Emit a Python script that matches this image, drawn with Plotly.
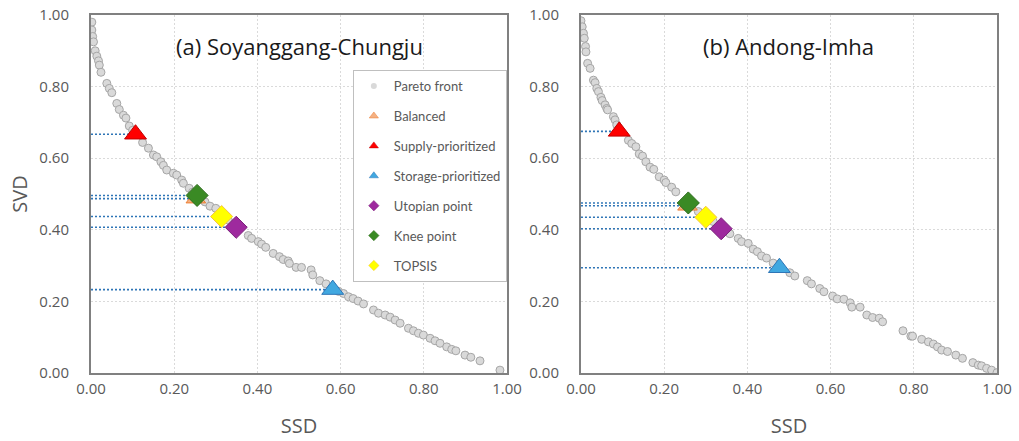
import plotly.graph_objects as go

# ---------------- data ----------------
left_ssd = [0.002, 0.002, 0.004, 0.006, 0.010, 0.014, 0.018, 0.020, 0.024, 0.038, 0.044, 0.050,
            0.062, 0.068, 0.078, 0.084, 0.092, 0.100, 0.124, 0.138, 0.150, 0.158, 0.168, 0.174,
            0.182, 0.198, 0.206, 0.218, 0.222, 0.236, 0.244, 0.274, 0.286, 0.300, 0.330, 0.378,
            0.386, 0.402, 0.410, 0.420, 0.438, 0.453, 0.462, 0.474, 0.477, 0.493, 0.506, 0.529,
            0.533, 0.550, 0.565, 0.595, 0.607, 0.619, 0.630, 0.642, 0.655, 0.679, 0.691, 0.707,
            0.719, 0.731, 0.743, 0.763, 0.775, 0.787, 0.799, 0.815, 0.827, 0.839, 0.855, 0.867,
            0.877, 0.899, 0.913, 0.935, 0.983]
left_svd = [0.980, 0.958, 0.940, 0.925, 0.900, 0.885, 0.872, 0.860, 0.840, 0.809, 0.795, 0.783,
            0.753, 0.736, 0.720, 0.712, 0.690, 0.678, 0.644, 0.628, 0.609, 0.604, 0.590, 0.580,
            0.567, 0.558, 0.553, 0.539, 0.530, 0.516, 0.505, 0.478, 0.466, 0.460, 0.427, 0.384,
            0.376, 0.367, 0.360, 0.351, 0.334, 0.325, 0.317, 0.313, 0.306, 0.295, 0.295, 0.288,
            0.274, 0.258, 0.249, 0.228, 0.222, 0.213, 0.208, 0.201, 0.193, 0.176, 0.167, 0.162,
            0.156, 0.148, 0.139, 0.125, 0.118, 0.111, 0.106, 0.097, 0.090, 0.083, 0.073, 0.066,
            0.062, 0.050, 0.044, 0.034, 0.008]

right_ssd = [0.000, 0.003, 0.006, 0.008, 0.011, 0.012, 0.016, 0.022, 0.030, 0.034, 0.038, 0.042,
             0.048, 0.051, 0.058, 0.062, 0.064, 0.078, 0.082, 0.086, 0.114, 0.122, 0.132, 0.140,
             0.148, 0.156, 0.166, 0.175, 0.188, 0.200, 0.204, 0.218, 0.228, 0.282, 0.318, 0.358,
             0.378, 0.386, 0.402, 0.414, 0.424, 0.434, 0.446, 0.462, 0.502, 0.514, 0.544, 0.554,
             0.574, 0.584, 0.605, 0.616, 0.632, 0.647, 0.651, 0.671, 0.687, 0.701, 0.717, 0.725,
             0.774, 0.793, 0.797, 0.819, 0.835, 0.847, 0.857, 0.867, 0.881, 0.901, 0.917, 0.942,
             0.955, 0.963, 0.975, 0.987, 1.000]
right_svd = [0.984, 0.967, 0.949, 0.935, 0.912, 0.897, 0.865, 0.851, 0.818, 0.811, 0.795, 0.786,
             0.770, 0.761, 0.749, 0.739, 0.735, 0.716, 0.707, 0.693, 0.650, 0.641, 0.632, 0.612,
             0.606, 0.590, 0.575, 0.569, 0.548, 0.539, 0.532, 0.519, 0.506, 0.451, 0.423, 0.389,
             0.376, 0.367, 0.362, 0.346, 0.339, 0.327, 0.321, 0.307, 0.280, 0.271, 0.258, 0.249,
             0.236, 0.227, 0.215, 0.207, 0.206, 0.196, 0.184, 0.184, 0.162, 0.155, 0.153, 0.143,
             0.118, 0.103, 0.103, 0.094, 0.087, 0.081, 0.073, 0.064, 0.060, 0.050, 0.041, 0.029,
             0.022, 0.020, 0.013, 0.008, 0.001]

solution_names = ["Balanced", "Supply-prioritized", "Storage-prioritized",
                  "Utopian point", "Knee point", "TOPSIS"]
left_sol_ssd = [0.252, 0.107, 0.581, 0.349, 0.255, 0.314]
left_sol_svd = [0.487, 0.667, 0.233, 0.407, 0.496, 0.437]
right_sol_ssd = [0.256, 0.092, 0.477, 0.337, 0.258, 0.300]
right_sol_svd = [0.467, 0.675, 0.294, 0.403, 0.475, 0.435]

panel_titles = ["(a) Soyanggang-Chungju", "(b) Andong-Imha"]
tick_vals = [0.0, 0.2, 0.4, 0.6, 0.8, 1.0]

# ---------------- styles ----------------
sol_style = {
    "Balanced": dict(symbol="triangle-up", size=17, color="#F4B183", line=dict(color="#ED7D31", width=1)),
    "Supply-prioritized": dict(symbol="triangle-up", size=19, color="#FF0000", line=dict(color="#C00000", width=1)),
    "Storage-prioritized": dict(symbol="triangle-up", size=19, color="#41A8E0", line=dict(color="#2E75B6", width=1)),
    "Utopian point": dict(symbol="diamond", size=17, color="#9E2A9E", line=dict(color="#7A1F7A", width=1)),
    "Knee point": dict(symbol="diamond", size=17, color="#3A8A24", line=dict(color="#2C6B1B", width=1)),
    "TOPSIS": dict(symbol="diamond", size=17, color="#FFFF00", line=dict(color="#F5C242", width=1)),
}
FONT = "Open Sans"
LEG_FONT = "Lato"
GREY_TXT = "#595959"
LINE_BLUE = "#2E75B6"

fig = go.Figure()

panels = [
    ("x", "y", left_ssd, left_svd, left_sol_ssd, left_sol_svd),
    ("x2", "y2", right_ssd, right_svd, right_sol_ssd, right_sol_svd),
]

for xa, ya, pssd, psvd, sssd, ssvd in panels:
    # dotted guide lines from the y axis to each solution
    for sx, sy in zip(sssd, ssvd):
        fig.add_trace(go.Scatter(x=[0, sx], y=[sy, sy], mode="lines", xaxis=xa, yaxis=ya,
                                 line=dict(color=LINE_BLUE, width=1.6, dash="2px,2px"),
                                 showlegend=False, hoverinfo="skip"))
    fig.add_trace(go.Scatter(x=pssd, y=psvd, mode="markers", xaxis=xa, yaxis=ya,
                             name="Pareto front", showlegend=False,
                             marker=dict(symbol="circle", size=8, color="#D9D9D9",
                                         line=dict(color="#A6A6A6", width=1))))
    for name, sx, sy in zip(solution_names, sssd, ssvd):
        st = sol_style[name]
        fig.add_trace(go.Scatter(x=[sx], y=[sy], mode="markers", xaxis=xa, yaxis=ya,
                                 name=name, showlegend=False,
                                 marker=dict(symbol=st["symbol"], size=st["size"],
                                             color=st["color"], line=st["line"])))

# legend entries (small symbols as in the reference legend)
fig.add_trace(go.Scatter(x=[None], y=[None], mode="markers", name="Pareto front",
                         legendgroup="g0", xaxis="x", yaxis="y",
                         marker=dict(symbol="circle", size=6, color="#D9D9D9",
                                     line=dict(color="#D9D9D9", width=0))))
for i, name in enumerate(solution_names):
    st = sol_style[name]
    fig.add_trace(go.Scatter(x=[None], y=[None], mode="markers", name=name,
                             legendgroup="g%d" % (i + 1), xaxis="x", yaxis="y",
                             marker=dict(symbol=st["symbol"], size=8, color=st["color"],
                                         line=dict(color=st["line"]["color"], width=0.5))))

axis_common = dict(range=[0, 1], tickvals=tick_vals, tickformat=".2f",
                   showgrid=True, gridcolor="#DADADA", griddash="2px,2px", gridwidth=1,
                   zeroline=False, showline=True, mirror=True, linecolor="#808080", linewidth=2,
                   tickfont=dict(family=FONT, size=15, color=GREY_TXT), ticks="",
                   ticklabeloverflow="allow", automargin=False)

title_font = dict(family=FONT, size=20, color=GREY_TXT)
fig.update_layout(
    width=1019, height=441,
    margin=dict(l=91, r=22, t=15, b=68),
    paper_bgcolor="white", plot_bgcolor="white",
    font=dict(family=FONT, color=GREY_TXT),
    xaxis=dict(domain=[0, 0.4592], anchor="y", ticklabelstandoff=1,
               title=dict(text="SSD", font=title_font, standoff=22), **axis_common),
    yaxis=dict(domain=[0, 1], anchor="x", ticklabelstandoff=17,
               title=dict(text="SVD", font=title_font, standoff=6), **axis_common),
    xaxis2=dict(domain=[0.5408, 1], anchor="y2", ticklabelstandoff=1,
                title=dict(text="SSD", font=title_font, standoff=22), **axis_common),
    yaxis2=dict(domain=[0, 1], anchor="x2", ticklabelstandoff=17, **axis_common),
    legend=dict(x=0.289, y=0.846, xanchor="left", yanchor="top",
                bgcolor="white", bordercolor="#BFBFBF", borderwidth=1,
                font=dict(family=LEG_FONT, size=13, color=GREY_TXT),
                itemsizing="trace", traceorder="grouped", tracegroupgap=10),
    showlegend=True,
)

fig.add_annotation(text=panel_titles[0], xref="x domain", yref="y domain", x=0.5, y=0.913,
                   xanchor="center", yanchor="middle", showarrow=False,
                   font=dict(family=FONT, size=22, color="#1A1A1A"))
fig.add_annotation(text=panel_titles[1], xref="x2 domain", yref="y2 domain", x=0.5, y=0.913,
                   xanchor="center", yanchor="middle", showarrow=False,
                   font=dict(family=FONT, size=22, color="#1A1A1A"))

fig.write_html("out.html", config={"displayModeBar": False},
               post_script="document.body.style.margin='0px';")
